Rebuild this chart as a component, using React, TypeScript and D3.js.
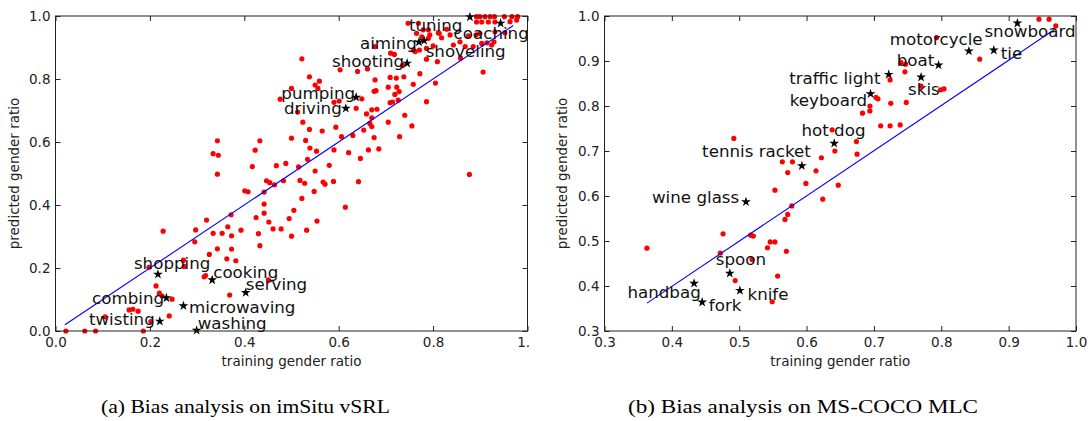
import React, { useEffect, useRef } from 'react';
import * as d3 from 'd3';

// (a) imSitu vSRL: [training ratio, predicted ratio]
const vsrlPoints: [number, number][] = [
  [0.022, 0.0], [0.062, 0.0], [0.085, 0.0], [0.186, 0.0], [0.105, 0.045], [0.156, 0.067],
  [0.164, 0.069], [0.175, 0.063], [0.202, 0.03], [0.241, 0.048], [0.247, 0.101], [0.22, 0.12],
  [0.226, 0.111], [0.213, 0.143], [0.198, 0.202], [0.228, 0.317], [0.271, 0.225], [0.273, 0.205],
  [0.295, 0.283], [0.297, 0.321], [0.315, 0.172], [0.318, 0.176], [0.32, 0.352], [0.326, 0.243],
  [0.334, 0.31], [0.343, 0.261], [0.353, 0.31], [0.363, 0.229], [0.365, 0.331], [0.369, 0.114],
  [0.373, 0.26], [0.382, 0.223], [0.372, 0.369], [0.373, 0.302], [0.393, 0.32], [0.425, 0.36],
  [0.43, 0.309], [0.433, 0.271], [0.442, 0.374], [0.442, 0.403], [0.452, 0.346], [0.461, 0.324],
  [0.478, 0.324], [0.451, 0.162], [0.495, 0.357], [0.5, 0.301], [0.505, 0.383], [0.522, 0.421],
  [0.532, 0.32], [0.554, 0.349], [0.614, 0.393], [0.548, 0.443], [0.442, 0.441], [0.401, 0.445],
  [0.408, 0.442], [0.447, 0.477], [0.454, 0.471], [0.464, 0.464], [0.483, 0.477], [0.518, 0.478],
  [0.528, 0.469], [0.567, 0.473], [0.571, 0.466], [0.589, 0.475], [0.642, 0.474], [0.877, 0.497],
  [0.55, 0.508],
  [0.343, 0.604], [0.334, 0.563], [0.345, 0.558], [0.343, 0.498], [0.433, 0.604], [0.423, 0.574],
  [0.417, 0.522], [0.468, 0.525], [0.476, 0.736], [0.488, 0.532], [0.515, 0.521], [0.58, 0.526],
  [0.5, 0.612], [0.53, 0.605], [0.539, 0.581], [0.553, 0.571], [0.534, 0.545], [0.59, 0.575],
  [0.621, 0.566], [0.646, 0.548], [0.663, 0.575], [0.685, 0.578], [0.606, 0.617], [0.63, 0.621],
  [0.675, 0.614], [0.594, 0.647], [0.565, 0.635], [0.538, 0.64], [0.653, 0.638], [0.67, 0.649],
  [0.705, 0.663], [0.666, 0.659], [0.524, 0.663], [0.513, 0.695], [0.59, 0.726], [0.601, 0.73],
  [0.675, 0.761], [0.659, 0.689], [0.67, 0.702], [0.681, 0.704], [0.67, 0.677], [0.709, 0.725],
  [0.637, 0.707], [0.649, 0.737], [0.522, 0.864], [0.603, 0.829], [0.538, 0.807], [0.559, 0.793],
  [0.55, 0.781], [0.556, 0.77], [0.5, 0.77], [0.64, 0.824], [0.661, 0.832], [0.677, 0.797],
  [0.679, 0.763], [0.709, 0.805], [0.705, 0.774], [0.722, 0.803], [0.723, 0.774], [0.719, 0.751],
  [0.726, 0.733], [0.728, 0.76], [0.714, 0.727], [0.738, 0.807], [0.758, 0.783], [0.735, 0.843],
  [0.71, 0.882], [0.718, 0.878], [0.677, 0.903], [0.772, 0.817], [0.786, 0.863], [0.809, 0.855],
  [0.805, 0.787], [0.786, 0.728], [0.74, 0.685], [0.755, 0.651], [0.729, 0.617],
  [0.906, 0.822], [0.858, 0.866], [0.843, 0.908], [0.813, 0.945], [0.818, 0.931], [0.762, 0.887],
  [0.786, 0.897], [0.8, 0.905], [0.79, 0.929], [0.793, 0.94], [0.811, 0.947], [0.779, 0.956],
  [0.79, 0.956], [0.829, 0.958], [0.836, 0.94], [0.857, 0.918], [0.868, 0.903], [0.885, 0.903],
  [0.875, 0.937], [0.891, 0.94], [0.899, 0.945], [0.903, 0.913], [0.914, 0.915], [0.924, 0.908],
  [0.929, 0.918], [0.892, 0.998], [0.899, 0.998], [0.91, 0.998], [0.921, 0.998], [0.93, 0.998],
  [0.951, 0.998], [0.967, 0.998], [0.979, 0.998], [0.892, 0.981], [0.903, 0.981], [0.917, 0.981],
  [0.931, 0.981], [0.963, 0.982], [0.977, 0.987], [0.931, 0.95], [0.952, 0.947], [0.747, 0.977],
  [0.769, 0.977], [0.765, 0.945], [0.776, 0.934], [0.758, 0.892], [0.771, 0.892],
];

const vsrlNames = ['tuning', 'coaching', 'aiming', 'shoveling', 'shooting', 'pumping', 'driving',
  'shopping', 'cooking', 'serving', 'combing', 'microwaving', 'twisting', 'washing'];
const vsrlStarX = [0.878, 0.943, 0.77, 0.781, 0.745, 0.637, 0.615, 0.217, 0.332, 0.403, 0.235, 0.271, 0.221, 0.299];
const vsrlStarY = [0.997, 0.977, 0.917, 0.922, 0.85, 0.742, 0.707, 0.18, 0.162, 0.122, 0.105, 0.08, 0.031, 0.002];
const vsrlFit: [number, number][] = [[0.02, 0.02], [0.97, 0.97]];
const vsrlXTicks = [0, 0.2, 0.4, 0.6, 0.8, 1.0];
const vsrlYTicks = [0, 0.2, 0.4, 0.6, 0.8, 1.0];

// (b) MS-COCO MLC
const cocoPoints: [number, number][] = [
  [0.492, 0.728], [0.564, 0.676], [0.579, 0.676], [0.572, 0.652], [0.614, 0.656], [0.638, 0.747],
  [0.674, 0.721], [0.642, 0.7], [0.622, 0.685], [0.675, 0.693], [0.599, 0.628], [0.647, 0.624],
  [0.553, 0.613], [0.624, 0.593], [0.578, 0.578], [0.572, 0.559], [0.568, 0.548], [0.476, 0.516],
  [0.517, 0.513], [0.521, 0.511], [0.546, 0.498], [0.553, 0.498], [0.542, 0.485], [0.363, 0.484],
  [0.57, 0.477], [0.472, 0.473], [0.519, 0.459], [0.494, 0.412], [0.557, 0.422], [0.549, 0.365],
  [0.945, 0.993], [0.96, 0.993], [0.97, 0.978], [0.857, 0.904], [0.793, 0.952], [0.74, 0.897],
  [0.747, 0.893], [0.746, 0.876], [0.724, 0.858], [0.799, 0.836], [0.804, 0.838], [0.77, 0.844],
  [0.703, 0.819], [0.706, 0.816], [0.694, 0.8], [0.725, 0.806], [0.748, 0.808], [0.694, 0.789],
  [0.683, 0.784], [0.71, 0.756], [0.724, 0.756], [0.739, 0.758],
];

const cocoNames = ['snowboard', 'tie', 'motorcycle', 'boat', 'skis', 'traffic light', 'keyboard',
  'hot dog', 'tennis racket', 'wine glass', 'spoon', 'handbag', 'fork', 'knife'];
const cocoStarX = [0.913, 0.878, 0.841, 0.796, 0.77, 0.722, 0.695, 0.641, 0.593, 0.51, 0.486, 0.433, 0.445, 0.501];
const cocoStarY = [0.984, 0.924, 0.922, 0.891, 0.864, 0.87, 0.827, 0.717, 0.667, 0.587, 0.428, 0.406, 0.364, 0.39];
const cocoFit: [number, number][] = [[0.363, 0.362], [0.968, 0.97]];
const cocoXTicks = [0.3, 0.4, 0.5, 0.6, 0.7, 0.8, 0.9, 1.0];
const cocoYTicks = [0.3, 0.4, 0.5, 0.6, 0.7, 0.8, 0.9, 1.0];

// label placement relative to the star (px), anchor of the text
const vsrlLabelPos: Record<string, [number, number, string]> = {
  tuning: [-61, 8, 'start'], coaching: [-47, 10, 'start'], aiming: [-2, 1, 'end'],
  shoveling: [1.5, 11, 'start'], shooting: [-3, -2, 'end'], pumping: [-1, -4, 'end'],
  driving: [-4, 0, 'end'], shopping: [-24, -11, 'start'], cooking: [1, -8, 'start'],
  serving: [0, -8.4, 'start'], combing: [-2.3, 0, 'end'], microwaving: [5.7, 1, 'start'],
  twisting: [-5, -2.3, 'end'], washing: [1, -7, 'start'],
};
const cocoLabelPos: Record<string, [number, number, string]> = {
  snowboard: [-33, 7.7, 'start'], tie: [7, 3.3, 'start'], motorcycle: [13.7, -11.7, 'end'],
  boat: [-4.3, -5, 'end'], skis: [-13, 12, 'start'], 'traffic light': [-8.3, 4, 'end'],
  keyboard: [-3.4, 6.7, 'end'], 'hot dog': [-32.7, -13.3, 'start'], 'tennis racket': [9, -14.3, 'end'],
  'wine glass': [-6.7, -5, 'end'], spoon: [-14, -14, 'start'], handbag: [6.7, 8.4, 'end'],
  fork: [6.7, 2.7, 'start'], knife: [7.6, 3.3, 'start'],
};

const FONT = '"DejaVu Sans", sans-serif';
const top = 16;
const bottom = 331;
const star = d3.symbol().type(d3.symbolStar).size(30);

function Panel(props: any) {
  const { id, left, right, xDomain, yDomain, xTicks, yTicks, points, names, starX, starY,
    fit, labelPos, caption, captionWidth, yLabelX, clipRight } = props;
  const xAxis = useRef<SVGGElement>(null);
  const yAxis = useRef<SVGGElement>(null);
  const topAxis = useRef<SVGGElement>(null);
  const rightAxis = useRef<SVGGElement>(null);

  const x = d3.scaleLinear().domain(xDomain).range([left, right]);
  const y = d3.scaleLinear().domain(yDomain).range([bottom, top]);
  const fmt = d3.format('.1f');

  useEffect(() => {
    const style = (g: any) => {
      g.select('.domain').remove();
      g.attr('font-family', FONT).attr('font-size', 13.5);
      g.selectAll('line').attr('stroke', '#222');
      g.selectAll('text').attr('fill', '#222');
    };
    d3.select(xAxis.current).call(
      d3.axisBottom(x).tickValues(xTicks).tickFormat(fmt as any).tickSizeInner(-5).tickSizeOuter(0).tickPadding(6)
    ).call(style);
    d3.select(yAxis.current).call(
      d3.axisLeft(y).tickValues(yTicks).tickFormat(fmt as any).tickSizeInner(-5).tickSizeOuter(0).tickPadding(5)
    ).call(style);
    d3.select(topAxis.current).call(
      d3.axisTop(x).tickValues(xTicks).tickFormat(() => '').tickSizeInner(-5).tickSizeOuter(0)
    ).call(style);
    d3.select(rightAxis.current).call(
      d3.axisRight(y).tickValues(yTicks).tickFormat(() => '').tickSizeInner(-5).tickSizeOuter(0)
    ).call(style);
  });

  const line = d3.line<[number, number]>().x(d => x(d[0])).y(d => y(d[1]));
  const cx = (left + right) / 2;

  return (
    <g clipPath={clipRight ? `url(#clip-${id})` : undefined}>
      {clipRight && (
        <defs>
          <clipPath id={`clip-${id}`}>
            <rect x={0} y={0} width={clipRight} height={421} />
          </clipPath>
        </defs>
      )}
      {points.map((d: [number, number], i: number) => (
        <circle key={i} cx={x(d[0])} cy={y(d[1])} r={2.6} fill="#ff0000" />
      ))}
      <path d={line(fit) || ''} stroke="#0000ff" strokeWidth={1.1} fill="none" />
      {names.map((n: string, i: number) => {
        const sx = x(starX[i]);
        const sy = y(starY[i]);
        const [dx, dy, anchor] = labelPos[n];
        return (
          <g key={n}>
            <path d={star() || ''} transform={`translate(${sx},${sy})`} fill="#000" />
            <text x={sx + dx} y={sy + dy} dy="0.35em" textAnchor={anchor} fontFamily={FONT}
              fontSize={16.7} fill="#111">{n}</text>
          </g>
        );
      })}
      <rect x={left} y={top} width={right - left} height={bottom - top} fill="none" stroke="#222" strokeWidth={1} />
      <g ref={xAxis} transform={`translate(0,${bottom})`} />
      <g ref={yAxis} transform={`translate(${left},0)`} />
      <g ref={topAxis} transform={`translate(0,${top})`} />
      <g ref={rightAxis} transform={`translate(${right},0)`} />
      <text x={cx} y={366} textAnchor="middle" fontFamily={FONT} fontSize={13.5} fill="#222">training gender ratio</text>
      <text transform={`translate(${yLabelX},${(top + bottom) / 2}) rotate(-90)`} textAnchor="middle"
        fontFamily={FONT} fontSize={13.5} fill="#222">predicted gender ratio</text>
      <text x={props.captionX} y={413} textAnchor="middle" fontFamily='"Liberation Serif", serif' fontSize={19}
        textLength={captionWidth} lengthAdjust="spacingAndGlyphs" fill="#000">{caption}</text>
    </g>
  );
}

export default function App() {
  return (
    <svg width={1091} height={421} style={{ position: 'absolute', left: 0, top: 0, background: '#fff' }}>
      <rect width={1091} height={421} fill="#fff" />
      <Panel id="a" left={55.5} right={527.5} xDomain={[0, 1]} yDomain={[0, 1]} xTicks={vsrlXTicks}
        yTicks={vsrlYTicks} points={vsrlPoints} names={vsrlNames} starX={vsrlStarX} starY={vsrlStarY}
        fit={vsrlFit} labelPos={vsrlLabelPos} caption="(a) Bias analysis on imSitu vSRL" captionX={245.5}
        captionWidth={289} yLabelX={18.5} clipRight={529.5} />
      <Panel id="b" left={604.5} right={1076} xDomain={[0.3, 1]} yDomain={[0.3, 1]} xTicks={cocoXTicks}
        yTicks={cocoYTicks} points={cocoPoints} names={cocoNames} starX={cocoStarX} starY={cocoStarY}
        fit={cocoFit} labelPos={cocoLabelPos} caption="(b) Bias analysis on MS-COCO MLC" captionX={803}
        captionWidth={350} yLabelX={567} />
    </svg>
  );
}
